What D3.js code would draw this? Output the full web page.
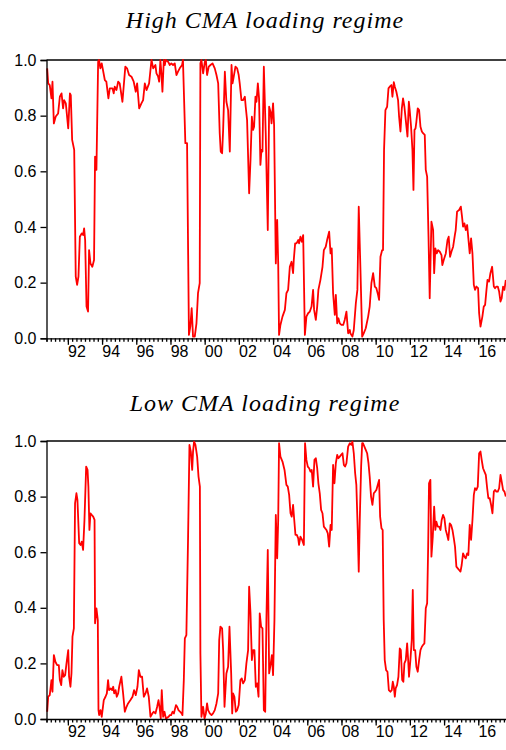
<!DOCTYPE html>
<html>
<head>
<meta charset="utf-8">
<script src="https://cdn.jsdelivr.net/npm/d3@7"></script>
<style>
  body { margin: 0; background: #fff; }
  svg { display: block; }
  .tick text { font-family: "Liberation Sans Narrow", "Liberation Sans", Arial, sans-serif; font-size: 16px; fill: #000; }
  .domain, .tick line { stroke: #000; stroke-width: 1.3; }
  .title { font-family: "Liberation Serif", "Times New Roman", serif; font-style: italic; font-size: 24px; letter-spacing: 1px; }
</style>
</head>
<body>
<script>
// high CMA loading regime probability (decimal year, prob)
var highT = [1990.79,1990.85,1990.94,1991.04,1991.10,1991.18,1991.29,1991.43,1991.53,1991.63,1991.72,1991.78,1991.88,1992.02,1992.12,1992.17,1992.25,1992.37,1992.46,1992.54,1992.62,1992.70,1992.81,1992.89,1992.95,1993.01,1993.09,1993.18,1993.24,1993.32,1993.43,1993.53,1993.59,1993.67,1993.77,1993.82,1993.90,1993.98,1994.16,1994.25,1994.37,1994.45,1994.61,1994.68,1994.74,1994.84,1994.94,1995.03,1995.19,1995.36,1995.46,1995.58,1995.72,1995.85,1995.97,1996.05,1996.17,1996.30,1996.40,1996.50,1996.60,1996.75,1996.89,1996.99,1997.12,1997.18,1997.28,1997.34,1997.41,1997.47,1997.53,1997.61,1997.67,1997.72,1997.86,1997.96,1998.05,1998.15,1998.25,1998.35,1998.44,1998.54,1998.68,1998.73,1998.87,1998.97,1999.08,1999.16,1999.24,1999.32,1999.42,1999.52,1999.61,1999.71,
  1999.75,1999.81,1999.91,2000.01,2000.07,2000.14,2000.24,2000.34,2000.46,2000.59,2000.69,2000.79,2000.88,2000.94,2001.02,2001.08,2001.18,2001.27,2001.37,2001.47,2001.57,2001.63,2001.70,2001.80,2001.90,2001.99,2002.05,2002.15,2002.25,2002.35,2002.40,2002.48,2002.60,2002.68,2002.76,2002.83,2002.89,2002.97,2003.03,2003.11,2003.18,2003.26,2003.32,2003.38,2003.46,2003.57,2003.69,2003.77,2003.85,2003.91,2004.00,2004.06,2004.16,2004.24,2004.30,2004.35,2004.43,2004.55,2004.69,2004.78,2004.88,2004.98,2005.08,2005.17,2005.21,2005.29,2005.37,2005.47,2005.52,2005.60,2005.68,2005.76,2005.86,2005.95,2006.05,2006.15,2006.25,2006.34,2006.40,2006.50,2006.58,2006.65,2006.77,2006.89,2006.97,2007.08,2007.16,2007.28,2007.36,2007.43,2007.51,2007.61,2007.67,2007.75,2007.82,2007.90,2008.00,2008.10,2008.19,2008.29,2008.39,2008.49,
  2008.52,2008.64,2008.72,2008.84,2008.93,2009.01,2009.11,2009.21,2009.30,2009.42,2009.56,2009.65,2009.75,2009.85,2009.95,2010.04,2010.14,2010.20,2010.28,2010.38,2010.43,2010.49,2010.57,2010.67,2010.75,2010.82,2010.92,2010.98,2011.06,2011.12,2011.21,2011.31,2011.37,2011.45,2011.53,2011.60,2011.68,2011.76,2011.86,2011.94,2011.99,2012.07,2012.15,2012.21,2012.27,2012.33,2012.38,2012.46,2012.54,2012.62,2012.70,2012.77,2012.87,2012.93,2013.01,2013.09,2013.16,2013.26,2013.36,2013.42,2013.49,2013.57,2013.65,2013.75,2013.85,2013.90,2013.98,2014.10,2014.20,2014.27,2014.35,2014.43,2014.53,2014.63,2014.68,2014.76,2014.88,2014.98,2015.05,2015.11,2015.19,2015.27,2015.35,2015.42,2015.50,2015.58,2015.66,2015.74,2015.81,2015.89,2015.99,2016.05,2016.13,2016.24,2016.32,2016.40,2016.48,2016.54,2016.63,2016.71,2016.81,2016.91,2016.98,2017.06,2017.14,2017.22,2017.30,2017.37,2017.45,2017.53,2017.61];
var highP = [.97,.916,.91,.862,.922,.772,.797,.808,.868,.88,.826,.856,.844,.754,.88,.874,.713,.677,.222,.192,.222,.365,.377,.371,.395,.353,.114,.096,.317,.269,.257,.281,.653,.605,.994,1,.97,.988,.928,.922,.862,.898,.898,.88,.904,.892,.922,.916,.85,.976,.97,.946,.94,.922,.886,.916,.826,.844,.856,.916,.892,.916,1,.97,.982,.952,.94,.922,1,.952,.886,1,.982,1,.994,.982,.988,.982,.988,.946,.958,.97,.982,1,.701,.701,.012,.042,.108,.006,.006,.054,.162,.198,
  .988,1,.952,.994,1,.946,.976,.982,.988,.97,.946,.916,.737,.671,.665,.749,.958,.85,.82,.671,.982,.916,.94,.976,.97,.946,.916,.856,.856,.868,.832,.784,.521,.641,.796,.749,.76,.868,.85,.916,.862,.623,.677,.671,.976,.737,.389,.832,.814,.772,.844,.766,.269,.425,.269,.012,.048,.078,.102,.162,.174,.257,.275,.234,.281,.341,.341,.353,.341,.365,.347,.371,.012,.078,.09,.096,.114,.174,.102,.066,.114,.174,.21,.257,.317,.329,.353,.383,.305,.323,.162,.084,.156,.054,.072,.054,.048,.048,.066,.096,.018,.03,
  .018,.006,.03,.126,.174,.473,.246,.006,.018,.036,.078,.114,.198,.234,.186,.18,.156,.138,.293,.317,.317,.677,.82,.832,.898,.904,.91,.868,.92,.904,.886,.856,.796,.743,.826,.862,.832,.784,.725,.85,.82,.76,.677,.533,.749,.754,.778,.826,.82,.76,.743,.737,.731,.605,.581,.365,.144,.419,.389,.234,.323,.305,.317,.311,.299,.263,.281,.305,.353,.365,.293,.311,.329,.371,.389,.455,.461,.473,.437,.401,.413,.389,.407,.359,.305,.359,.305,.192,.174,.186,.18,.09,.042,.078,.114,.12,.174,.21,.204,.234,.257,.186,.18,.186,.186,.168,.132,.144,.186,.174,.21];

// low CMA loading regime probability
var lowT = [1990.79,1990.85,1990.94,1991.04,1991.10,1991.18,1991.27,1991.37,1991.47,1991.53,1991.61,1991.68,1991.76,1991.84,1991.92,1992.02,1992.07,1992.15,1992.21,1992.27,1992.35,1992.42,1992.50,1992.56,1992.66,1992.74,1992.81,1992.89,1992.97,1993.07,1993.15,1993.20,1993.26,1993.32,1993.40,1993.48,1993.56,1993.59,1993.67,1993.75,1993.79,1993.83,1993.91,1993.98,1994.10,1994.20,1994.28,1994.35,1994.41,1994.51,1994.59,1994.65,1994.71,1994.79,1994.86,1994.94,1995.00,1995.13,1995.23,1995.33,1995.43,1995.52,1995.66,1995.78,1995.87,1995.97,1996.07,1996.15,1996.24,1996.34,1996.44,1996.54,1996.63,1996.73,1996.83,1996.94,1997.02,1997.12,1997.22,1997.30,1997.37,1997.43,1997.49,1997.57,1997.65,1997.73,1997.81,1997.89,1997.96,1998.04,1998.12,1998.20,1998.32,1998.39,1998.47,1998.57,1998.65,1998.70,1998.78,1998.84,1998.93,1999.03,1999.11,1999.19,1999.27,1999.32,1999.38,1999.46,1999.56,1999.64,1999.72,
  1999.75,1999.81,1999.91,1999.99,2000.07,2000.14,2000.20,2000.30,2000.40,2000.49,2000.59,2000.69,2000.79,2000.85,2000.92,2001.02,2001.08,2001.16,2001.27,2001.37,2001.45,2001.55,2001.61,2001.66,2001.74,2001.82,2001.90,2001.99,2002.09,2002.17,2002.25,2002.35,2002.44,2002.54,2002.60,2002.68,2002.76,2002.83,2002.91,2002.99,2003.07,2003.15,2003.22,2003.30,2003.38,2003.46,2003.54,2003.61,2003.69,2003.77,2003.85,2003.93,2004.00,2004.08,2004.16,2004.24,2004.30,2004.35,2004.43,2004.55,2004.67,2004.78,2004.86,2004.94,2005.02,2005.09,2005.17,2005.23,2005.31,2005.39,2005.47,2005.52,2005.60,2005.70,2005.80,2005.87,2005.95,2006.03,2006.11,2006.19,2006.26,2006.34,2006.42,2006.50,2006.58,2006.65,2006.73,2006.81,2006.89,2006.97,2007.12,2007.20,2007.28,2007.36,2007.43,2007.51,2007.59,2007.67,2007.75,2007.82,2007.90,2007.98,2008.06,2008.14,2008.21,2008.29,2008.39,2008.49,
  2008.58,2008.64,2008.72,2008.80,2008.87,2008.95,2009.01,2009.07,2009.15,2009.21,2009.26,2009.34,2009.42,2009.50,2009.58,2009.65,2009.73,2009.81,2009.89,2009.97,2010.04,2010.12,2010.20,2010.26,2010.34,2010.41,2010.47,2010.53,2010.61,2010.69,2010.77,2010.86,2010.94,2011.00,2011.06,2011.12,2011.17,2011.25,2011.33,2011.41,2011.47,2011.55,2011.62,2011.68,2011.76,2011.84,2011.90,2011.95,2012.03,2012.11,2012.17,2012.23,2012.31,2012.38,2012.46,2012.54,2012.62,2012.70,2012.77,2012.85,2012.93,2013.01,2013.07,2013.12,2013.20,2013.26,2013.34,2013.42,2013.49,2013.55,2013.63,2013.71,2013.79,2013.86,2013.94,2014.02,2014.10,2014.18,2014.25,2014.33,2014.41,2014.49,2014.57,2014.64,2014.72,2014.80,2014.88,2014.96,2015.03,2015.11,2015.19,2015.27,2015.35,2015.42,2015.50,2015.58,2015.66,2015.74,2015.81,2015.89,2015.97,2016.05,2016.13,2016.20,2016.28,2016.36,2016.44,2016.52,2016.59,2016.67,2016.75,2016.83,2016.91,2016.98,2017.06,2017.14,2017.22,2017.30,2017.37,2017.45,2017.53,2017.61];
var lowP = [.026,.08,.086,.14,.098,.23,.206,.194,.194,.14,.122,.176,.152,.158,.2,.248,.152,.116,.164,.296,.326,.776,.812,.788,.632,.626,.638,.608,.716,.908,.896,.836,.68,.74,.734,.728,.716,.344,.398,.356,.032,.014,.032,.008,.068,.08,.092,.14,.104,.11,.104,.116,.092,.104,.08,.092,.116,.152,.092,.026,.044,.056,.068,.08,.104,.086,.116,.176,.152,.152,.08,.092,.11,.08,.008,.02,.026,.02,.044,.068,.038,.002,.104,.008,.026,.002,.005,.008,.014,.014,.026,.02,.05,.044,.032,.026,.02,.014,.14,.29,.302,.656,.986,.962,.896,.962,.998,.986,.944,.872,.836,
  .236,.008,.044,.002,.02,.056,.032,.02,.014,.02,.032,.056,.092,.284,.332,.326,.248,.044,.164,.188,.332,.164,.02,.092,.08,.026,.032,.05,.14,.146,.128,.14,.2,.248,.476,.38,.212,.248,.248,.116,.128,.08,.38,.332,.326,.032,.026,.356,.608,.164,.194,.23,.158,.356,.734,.578,.716,.992,.944,.926,.896,.842,.836,.806,.74,.728,.77,.722,.662,.662,.65,.626,.656,.644,.626,.992,.932,.908,.902,.89,.896,.836,.932,.938,.902,.848,.812,.752,.74,.692,.68,.668,.62,.698,.68,.914,.848,.92,.95,.938,.944,.95,.956,.914,.908,.92,.98,.992,
  .986,.998,.956,.884,.842,.68,.53,.716,.908,.992,.992,.98,.968,.956,.92,.872,.8,.77,.812,.818,.824,.842,.86,.728,.686,.68,.356,.212,.176,.17,.104,.098,.104,.134,.116,.08,.11,.122,.152,.254,.248,.14,.134,.2,.212,.272,.212,.152,.212,.284,.464,.248,.248,.188,.17,.212,.248,.26,.266,.272,.398,.416,.62,.848,.86,.584,.656,.764,.68,.71,.692,.692,.68,.716,.734,.722,.68,.662,.644,.704,.698,.68,.65,.62,.548,.542,.536,.53,.554,.596,.584,.578,.596,.59,.698,.644,.716,.806,.83,.824,.836,.956,.962,.932,.902,.89,.878,.83,.794,.794,.77,.74,.818,.824,.818,.818,.83,.878,.854,.824,.818,.8];

var yTicks = [0, 0.2, 0.4, 0.6, 0.8, 1.0];
var labelYears = [1992, 1994, 1996, 1998, 2000, 2002, 2004, 2006, 2008, 2010, 2012, 2014, 2016];

var W = 506, H = 750;
var svg = d3.select("body").append("svg").attr("width", W).attr("height", H);

var x = d3.scaleLinear().domain([1990.75, 2017.68]).range([46.5, 507]);
var quarters = d3.range(1990.75, 2017.68, 0.25);

var panels = [
  { title: "High CMA loading regime", t: highT, p: highP, top: 60, bottom: 338.3, titleY: 28 },
  { title: "Low CMA loading regime", t: lowT, p: lowP, top: 441, bottom: 719, titleY: 411 }
];

panels.forEach(function(pn) {
  var y = d3.scaleLinear().domain([0, 1]).range([pn.bottom, pn.top]);
  var g = svg.append("g");

  g.append("text").attr("class", "title")
    .attr("x", 265).attr("y", pn.titleY)
    .attr("text-anchor", "middle")
    .text(pn.title);

  // top frame line
  g.append("line")
    .attr("x1", x.range()[0]).attr("x2", x.range()[1])
    .attr("y1", y(1)).attr("y2", y(1))
    .attr("stroke", "#000").attr("stroke-width", 1.3);

  var line = d3.line()
    .x(function(d, i) { return x(pn.t[i]); })
    .y(function(d) { return y(d); });

  g.append("path")
    .datum(pn.p)
    .attr("fill", "none")
    .attr("stroke", "#ff0000")
    .attr("stroke-width", 1.8)
    .attr("stroke-linejoin", "round")
    .attr("d", line);

  // minor quarterly ticks
  g.append("g")
    .attr("transform", "translate(0," + pn.bottom + ")")
    .call(d3.axisBottom(x).tickValues(quarters).tickSize(3.5).tickFormat(""));

  // major ticks every two years
  g.append("g")
    .attr("transform", "translate(0," + pn.bottom + ")")
    .call(d3.axisBottom(x).tickValues(labelYears).tickSize(6.5).tickFormat(""))
    .select(".domain").remove();

  // year labels centred in the year
  var lab = g.append("g")
    .attr("transform", "translate(0," + pn.bottom + ")")
    .call(d3.axisBottom(x).tickValues(labelYears.map(function(d) { return d + 0.5; }))
      .tickSize(0).tickPadding(7)
      .tickFormat(function(d) { return d3.format("02d")(Math.floor(d) % 100); }));
  lab.select(".domain").remove();

  g.append("g")
    .attr("transform", "translate(" + x.range()[0] + ",0)")
    .call(d3.axisLeft(y).tickValues(yTicks).tickSize(6).tickPadding(4).tickFormat(d3.format(".1f")));
});
</script>
</body>
</html>
